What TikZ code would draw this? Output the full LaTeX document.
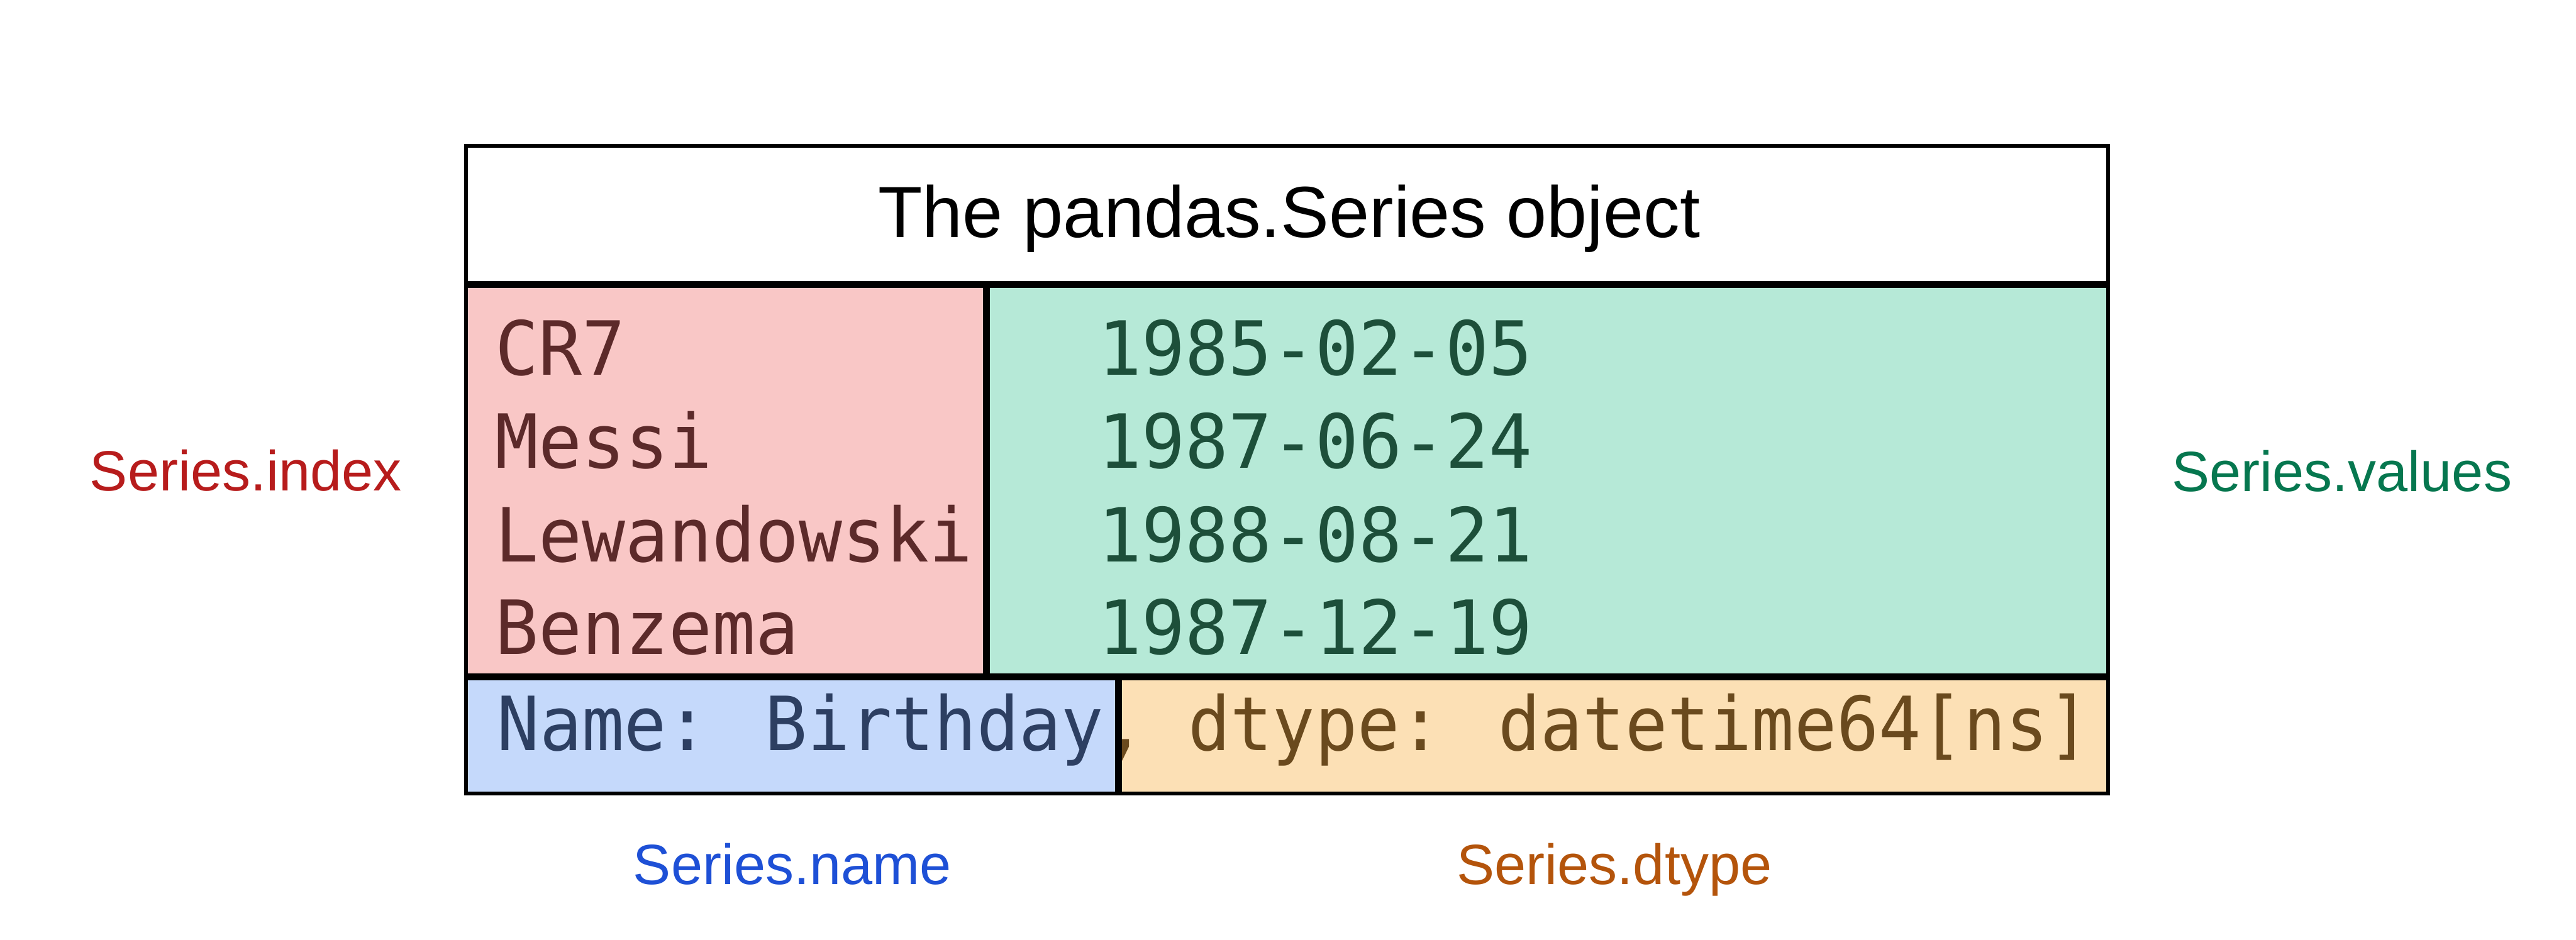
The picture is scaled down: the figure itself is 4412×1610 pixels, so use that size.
\documentclass[tikz,border=0pt]{standalone}
\usepackage{fontspec}
\setmainfont{Liberation Sans}
\newfontfamily\monofont[FakeStretch=0.965]{DejaVu Sans Mono}
\newfontfamily\monobottom[FakeStretch=0.94]{DejaVu Sans Mono}
\definecolor{idxfill}{HTML}{F9C7C6}
\definecolor{valfill}{HTML}{B6E9D7}
\definecolor{namefill}{HTML}{C5D9FB}
\definecolor{dtypefill}{HTML}{FCE0B5}
\definecolor{idxtext}{HTML}{5C2A2A}
\definecolor{valtext}{HTML}{1D4F3A}
\definecolor{nametext}{HTML}{2D3F62}
\definecolor{dtypetext}{HTML}{6A4A1E}
\definecolor{lblred}{HTML}{B71C1C}
\definecolor{lblgreen}{HTML}{06774F}
\definecolor{lblblue}{HTML}{1E50D6}
\definecolor{lblorange}{HTML}{B4540B}
\begin{document}
\begin{tikzpicture}[x=0.01cm,y=-0.01cm,
  txt/.style={inner sep=0pt,outer sep=0pt},
  mono/.style={txt,anchor=base west,font=\monofont\fontsize{36.4pt}{40pt}\selectfont},
  monob/.style={txt,anchor=base west,font=\monobottom\fontsize{36.4pt}{40pt}\selectfont},
  lbl/.style={txt,anchor=base,font=\fontsize{27.6pt}{32pt}\selectfont},
  titlefont/.style={txt,anchor=base,font=\fontsize{35.3pt}{40pt}\selectfont},
  outerline/.style={line width=1.85pt},
  divider/.style={line width=3.4pt}]
\useasboundingbox[fill=white] (0,0) rectangle (4412,1610);
% cell fills
\fill[idxfill] (798,487) rectangle (1689,1160);
\fill[valfill] (1689,487) rectangle (3611,1160);
\fill[namefill] (798,1160) rectangle (1916,1359);
\fill[dtypefill] (1916,1160) rectangle (3611,1359);
% title
\node[titlefont] (title) at (2208,407) {The pandas.Series object};
% index
\node[mono,text=idxtext] (i1) at (848,643) {CR7};
\node[mono,text=idxtext] (i2) at (848,802) {Messi};
\node[mono,text=idxtext] (i3) at (848,962) {Lewandowski};
\node[mono,text=idxtext] (i4) at (848,1121) {Benzema};
% values
\node[mono,text=valtext] (v1) at (1881,643) {1985-02-05};
\node[mono,text=valtext] (v2) at (1881,802) {1987-06-24};
\node[mono,text=valtext] (v3) at (1881,962) {1988-08-21};
\node[mono,text=valtext] (v4) at (1881,1121) {1987-12-19};
% bottom line, split in two coloured halves
\begin{scope}
\clip (798,1160) rectangle (1916,1359);
\node[monob,text=nametext] (nm) at (852,1286) {Name: Birthday, dtype: datetime64[ns]};
\end{scope}
\begin{scope}
\clip (1916,1160) rectangle (3611,1359);
\node[monob,text=dtypetext] (dt) at (852,1286) {Name: Birthday, dtype: datetime64[ns]};
\end{scope}
% borders
\draw[divider] (798,487) -- (3611,487);
\draw[divider] (798,1160) -- (3611,1160);
\draw[divider] (1689,487) -- (1689,1160);
\draw[divider] (1916,1160) -- (1916,1359);
\draw[outerline] (798,250) rectangle (3611,1359);
% labels
\node[lbl,text=lblred] (lindex) at (421,841) {Series.index};
\node[lbl,text=lblgreen] (lvalues) at (4011,842) {Series.values};
\node[lbl,text=lblblue] (lname) at (1357,1515) {Series.name};
\node[lbl,text=lblorange] (ldtype) at (2765,1515) {Series.dtype};
\end{tikzpicture}
\end{document}
